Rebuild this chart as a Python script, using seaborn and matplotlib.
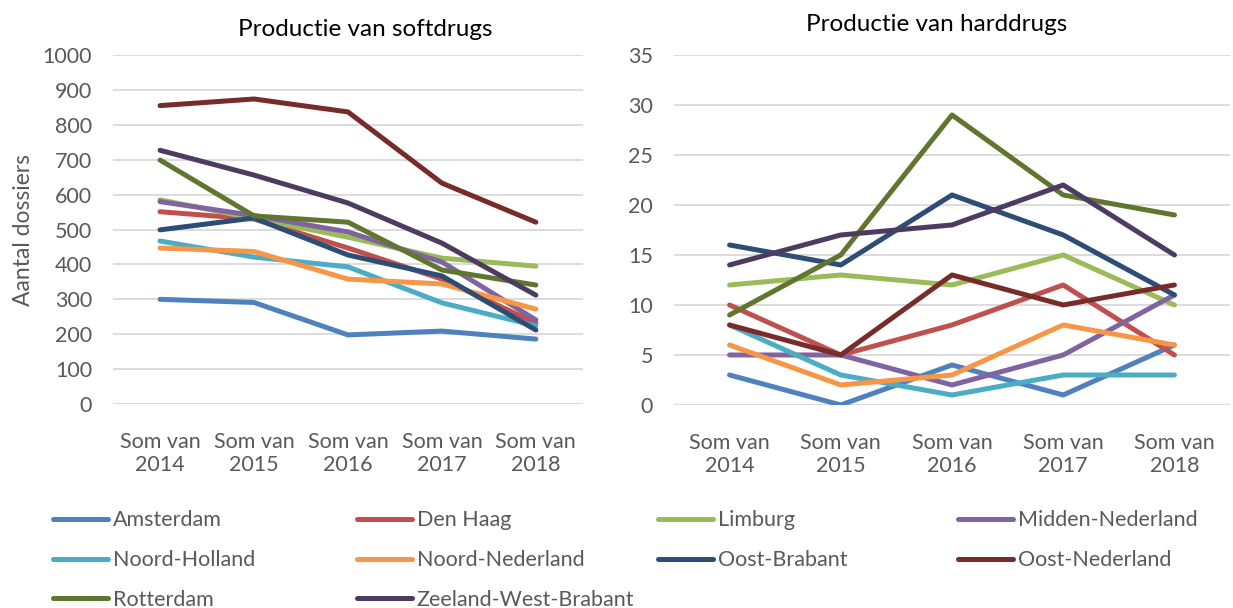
import pandas as pd
import matplotlib.pyplot as plt
from matplotlib.lines import Line2D
import seaborn as sns

# data
years = ['Som van\n2014', 'Som van\n2015', 'Som van\n2016', 'Som van\n2017', 'Som van\n2018']
regions = ['Amsterdam', 'Den Haag', 'Limburg', 'Midden-Nederland', 'Noord-Holland',
           'Noord-Nederland', 'Oost-Brabant', 'Oost-Nederland', 'Rotterdam', 'Zeeland-West-Brabant']

soft_amsterdam = [300, 291, 198, 209, 186]
soft_den_haag = [551, 530, 447, 358, 232]
soft_limburg = [585, 532, 478, 418, 395]
soft_midden = [580, 540, 493, 407, 241]
soft_noord_holland = [467, 421, 393, 290, 224]
soft_noord_nederland = [447, 437, 358, 344, 272]
soft_oost_brabant = [499, 533, 427, 367, 212]
soft_oost_nederland = [855, 874, 837, 633, 521]
soft_rotterdam = [699, 539, 521, 384, 341]
soft_zeeland = [727, 656, 576, 461, 312]

hard_amsterdam = [3, 0, 4, 1, 6]
hard_den_haag = [10, 5, 8, 12, 5]
hard_limburg = [12, 13, 12, 15, 10]
hard_midden = [5, 5, 2, 5, 11]
hard_noord_holland = [8, 3, 1, 3, 3]
hard_noord_nederland = [6, 2, 3, 8, 6]
hard_oost_brabant = [16, 14, 21, 17, 11]
hard_oost_nederland = [8, 5, 13, 10, 12]
hard_rotterdam = [9, 15, 29, 21, 19]
hard_zeeland = [14, 17, 18, 22, 15]

colors = ['#4F81BD', '#C0504D', '#9BBB59', '#8064A2', '#4BACC6',
          '#F79646', '#2C4D75', '#772C2A', '#5F7530', '#4D3B62']
palette = dict(zip(regions, colors))

soft = [soft_amsterdam, soft_den_haag, soft_limburg, soft_midden, soft_noord_holland,
        soft_noord_nederland, soft_oost_brabant, soft_oost_nederland, soft_rotterdam, soft_zeeland]
hard = [hard_amsterdam, hard_den_haag, hard_limburg, hard_midden, hard_noord_holland,
        hard_noord_nederland, hard_oost_brabant, hard_oost_nederland, hard_rotterdam, hard_zeeland]


def to_long(series):
    rows = []
    for reg, vals in zip(regions, series):
        for i, v in enumerate(vals):
            rows.append({'Regio': reg, 'Jaar': i, 'Aantal': v})
    return pd.DataFrame(rows)


sns.set_style('white')
plt.rcParams['font.family'] = ['Lato', 'DejaVu Sans']
grey = '#595959'

fig = plt.figure(figsize=(12.33, 6.08), dpi=100)
ax1 = fig.add_axes([0.0917, 0.3355, 0.381, 0.574])
ax2 = fig.add_axes([0.5466, 0.3339, 0.451, 0.5757])

# (axes, data, y max, y step, title, title pad, title x)
panels = [(ax1, soft, 1000, 100, 'Productie van softdrugs', 14, 0.536),
          (ax2, hard, 35, 5, 'Productie van harddrugs', 17, 0.473)]
for ax, series, ymax, step, title, tpad, tx in panels:
    df = to_long(series)
    sns.lineplot(data=df, x='Jaar', y='Aantal', hue='Regio', palette=palette,
                 linewidth=3.6, ax=ax, legend=False, solid_capstyle='round')
    ax.set_xlim(-0.5, 4.5)
    ax.set_ylim(0, ymax)
    ax.set_yticks(range(0, ymax + 1, step))
    ax.set_xticks(range(5))
    ax.set_xticklabels(years)
    ax.grid(axis='y', color='#D9D9D9', linewidth=1.3)
    ax.set_axisbelow(True)
    for s in ax.spines.values():
        s.set_visible(False)
    ax.tick_params(axis='both', length=0, labelsize=15.5, colors=grey)
    ax.tick_params(axis='y', pad=15)
    ax.tick_params(axis='x', pad=20)
    ax.set_xlabel('')
    ax.set_ylabel('')
    ax.set_title(title, fontsize=17.5, color='black', pad=tpad, x=tx)

ax1.set_ylabel('Aantal dossiers', fontsize=16.5, color=grey, labelpad=6)

# legend: four equally spaced columns like the original
columns = [[0, 4, 8], [1, 5, 9], [2, 6], [3, 7]]
col_x = [0.043, 0.2895, 0.5337, 0.777]
for idx, x in zip(columns, col_x):
    handles = [Line2D([], [], color=colors[i], linewidth=3.6, solid_capstyle='round') for i in idx]
    labels = [regions[i] for i in idx]
    leg = fig.legend(handles, labels, loc='upper left', bbox_to_anchor=(x, 0.1605),
                     frameon=False, fontsize=15.5, handlelength=2.55, handletextpad=0.23,
                     labelspacing=0.92, borderaxespad=0, borderpad=0)
    for t in leg.get_texts():
        t.set_color(grey)

fig.savefig('out.png', dpi=100)
